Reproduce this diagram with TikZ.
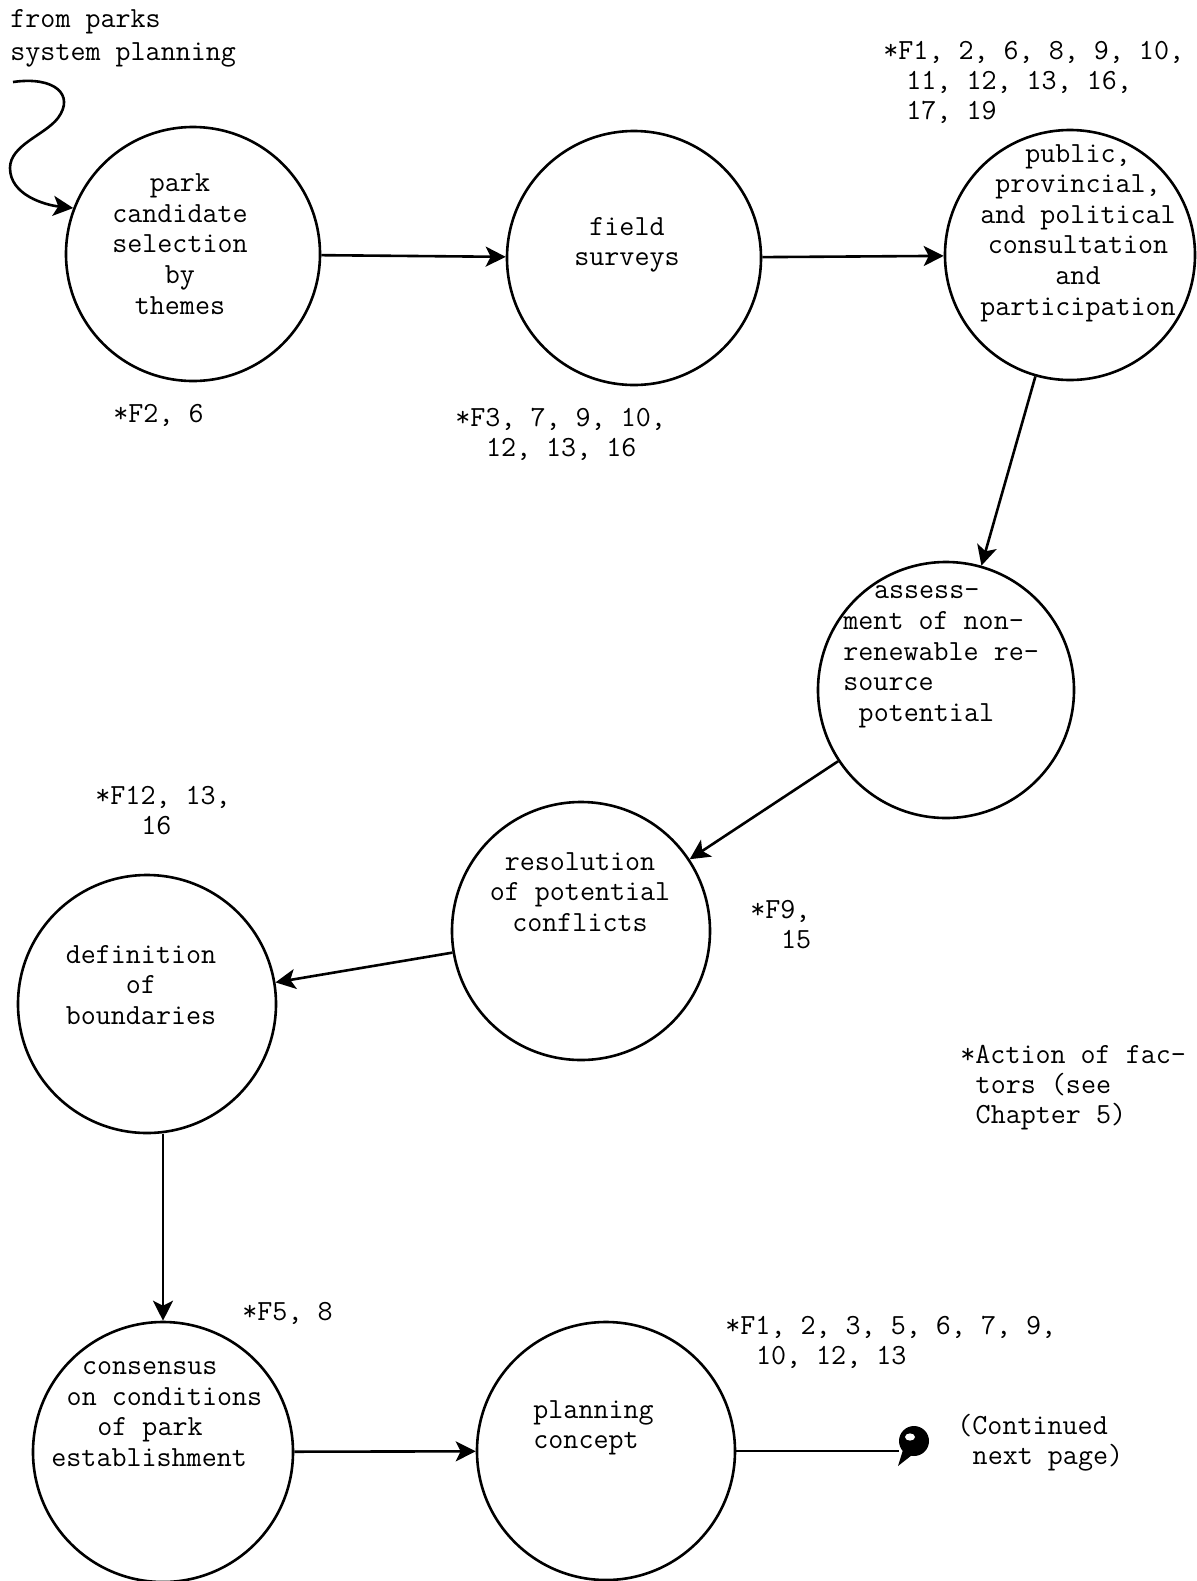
\documentclass[tikz,border=0pt]{standalone}
\usepackage{fontspec}
\usetikzlibrary{arrows.meta,calc}
\newcommand\ttlab{\ttfamily\fontsize{14.6pt}{15.3pt}\selectfont}
\newcommand\ttnote{\ttfamily\fontsize{14.6pt}{15pt}\selectfont}
\newcommand\ind[1]{\hspace*{#1\dimexpr0.525em\relax}}
\begin{document}
\begin{tikzpicture}[x=0.5pt,y=-0.5pt,
  proc/.style={circle, draw, line width=1.3pt, inner sep=0pt},
  lbl/.style={font=\ttlab, align=center, inner sep=0pt},
  lbll/.style={font=\ttlab, align=left, anchor=west, inner sep=0pt},
  note/.style={font=\ttnote, align=left, anchor=west, inner sep=0pt},
  flow/.style={line width=1.3pt, -{Stealth[length=10pt,width=10pt,inset=2.5pt]}}]
\useasboundingbox (0,0) rectangle (1196,1581);
\fill[white] (0,0) rectangle (1196,1581);

% process circles
\node[proc, minimum size=127pt] (c1) at (193,254) {};
\node[proc, minimum size=127pt] (c2) at (634,258) {};
\node[proc, minimum size=125pt] (c3) at (1070,255) {};
\node[proc, minimum size=128pt] (c4) at (946,690) {};
\node[proc, minimum size=129pt] (c5) at (581,931) {};
\node[proc, minimum size=129pt] (c6) at (147,1004) {};
\node[proc, minimum size=130pt] (c7) at (163,1452) {};
\node[proc, minimum size=129pt] (c8) at (606,1451) {};

% circle texts
\node[lbl] (t1) at (180,244) {park\\candidate\\selection\\by\\themes};
\node[lbl] (t2) at (627,245) {field\\surveys};
\node[lbl] (t3) at (1078,233) {public,\\provincial,\\and political\\consultation\\and\\participation};
\node[lbll] (t4) at (843,657) {\ind{2}assess-\\ment of non-\\renewable re-\\source\\\ind{1}potential};
\node[lbl] (t5) at (580,892) {resolution\\of potential\\conflicts};
\node[lbl] (t6) at (141,985) {definition\\of\\boundaries};
\node[lbll] (t7) at (51,1414) {\ind{2}consensus\\\ind{1}on conditions\\\ind{3}of park\\establishment};
\node[lbll] (t8) at (533,1428) {planning\\concept};

% notes
\node[note, font=\ttfamily\fontsize{14.6pt}{16.5pt}\selectfont] (n0) at (10,38) {from parks\\system planning};
\node[note] (n1) at (883,82) {*F1, 2, 6, 8, 9, 10,\\\ind{1.5}11, 12, 13, 16,\\\ind{1.5}17, 19};
\node[note] (n2) at (113,415) {*F2, 6};
\node[note] (n3) at (455,434) {*F3, 7, 9, 10,\\\ind{2}12, 13, 16};
\node[note] (n4) at (95,811) {*F12, 13,\\\ind{3}16};
\node[note] (n5) at (750,925) {*F9,\\\ind{2}15};
\node[note] (n6) at (960,1088) {*Action of fac-\\\ind{1}tors (see\\\ind{1}Chapter 5)};
\node[note] (n7) at (242,1313) {*F5, 8};
\node[note] (n8) at (725,1342) {*F1, 2, 3, 5, 6, 7, 9,\\\ind{2}10, 12, 13};
\node[note] (n9) at (957,1443) {(Continued\\\ind{1}next page)};

% end blob
\node[circle, fill=black, minimum size=15pt, inner sep=0pt] (blob) at (914,1441) {};
\fill[white] (910,1437) ellipse [x radius=2.5pt, y radius=1.8pt];
\fill (903,1450) -- (898,1466) -- (912,1455) -- cycle;

% connectors
\coordinate (src) at (13,82);
\draw[flow] (src) .. controls (55,76) and (75,95) .. (58,118)
  .. controls (45,135) and (10,145) .. (10,168)
  .. controls (10,195) and (45,205) .. (c1.159);
\draw[flow] (c1) -- (c2);
\draw[flow] (c2) -- (c3);
\draw[flow] (c3) -- (c4);
\draw[flow] (c4) -- (c5);
\draw[flow] (c5) -- (c6);
\draw[flow] (c6.south -| c7.north) -- (c7.north);
\draw[flow] (c7) -- (c8);
\draw[line width=1.3pt] (c8.east) -- (c8.east -| blob.west);
\end{tikzpicture}
\end{document}
